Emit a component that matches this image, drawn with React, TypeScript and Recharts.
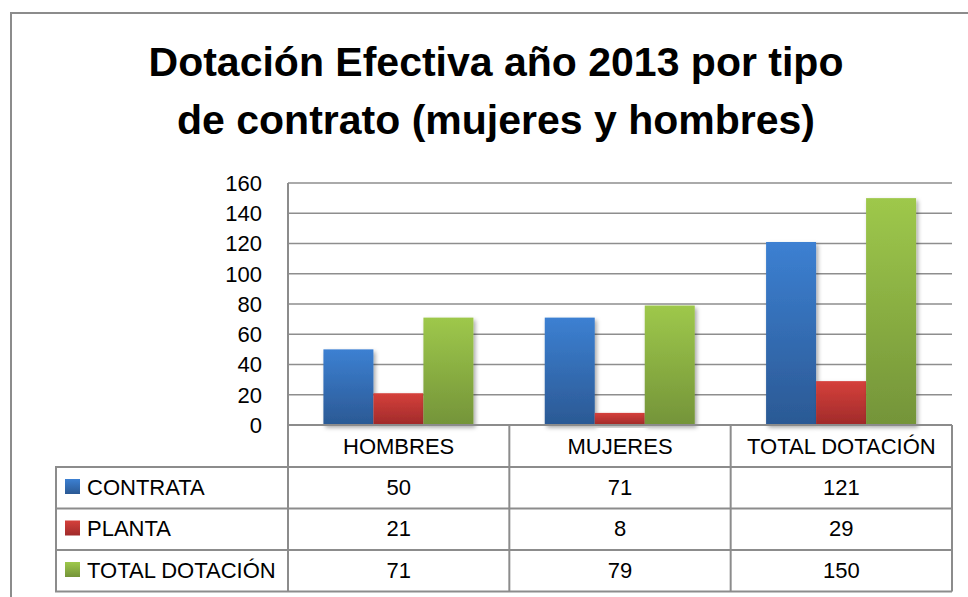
import React from 'react';
import { BarChart, Bar, XAxis, YAxis, CartesianGrid } from 'recharts';

const categories = ['HOMBRES', 'MUJERES', 'TOTAL DOTACIÓN'];
const contrata = [50, 71, 121];
const planta = [21, 8, 29];
const totalDotacion = [71, 79, 150];
const seriesNames = ['CONTRATA', 'PLANTA', 'TOTAL DOTACIÓN'];
const yTicks = [0, 20, 40, 60, 80, 100, 120, 140, 160];
const titleLines = ['Dotación Efectiva año 2013 por tipo', 'de contrato (mujeres y hombres)'];

const data = categories.map((name, i) => ({
  name,
  contrata: contrata[i],
  planta: planta[i],
  total: totalDotacion[i],
}));

const series = [
  { key: 'contrata', name: seriesNames[0], grad: 'gBlue', top: '#3c80d2', bottom: '#2b5994' },
  { key: 'planta', name: seriesNames[1], grad: 'gRed', top: '#d5403b', bottom: '#a02a2a' },
  { key: 'total', name: seriesNames[2], grad: 'gGreen', top: '#9ec84b', bottom: '#749439' },
];

const W = 968;
const H = 597;
const M_TOP = 183;
const M_RIGHT = 16;
const Y_W = 288;
const X_H = 172;
const PLOT_W = W - Y_W - M_RIGHT;
const TABLE_TOP = H - X_H;
const HEADER_H = 42;
const ROW_H = 41.5;
const TABLE_LEFT = 56;
const LINE = '#8c8c8c';
const FONT = '"Liberation Sans", Arial, sans-serif';

const valuesBySeries: Record<string, number[]> = {
  contrata,
  planta,
  total: totalDotacion,
};

function BarShape(props: any) {
  const { x, y, width, height, fill } = props;
  if (!height || height <= 0) return null;
  return <rect x={x} y={y} width={width} height={height} fill={fill} filter="url(#barShadow)" />;
}

function TableTick(props: any) {
  const { x, payload, index } = props;
  const bw = PLOT_W / categories.length;
  const left = x - bw / 2;
  const right = x + bw / 2;
  const bottom = TABLE_TOP + HEADER_H + ROW_H * series.length;
  const plotRight = Y_W + PLOT_W;
  return (
    <g fontFamily={FONT} fontSize={22} fill="#000">
      {index === 0 && (
        <g>
          <line x1={left} x2={left} y1={TABLE_TOP} y2={bottom} stroke={LINE} strokeWidth={2} />
          <line x1={TABLE_LEFT} x2={TABLE_LEFT} y1={TABLE_TOP + HEADER_H} y2={bottom} stroke={LINE} strokeWidth={2} />
          {series.map((s, r) => {
            const yy = TABLE_TOP + HEADER_H + ROW_H * r;
            return (
              <g key={s.key}>
                <line x1={TABLE_LEFT - 1} x2={plotRight} y1={yy} y2={yy} stroke={LINE} strokeWidth={2} />
                <rect x={65} y={yy + 12} width={15} height={15} fill={`url(#${s.grad})`} />
                <text x={87} y={yy + 27.5} textAnchor="start" fill="#000">
                  {s.name}
                </text>
              </g>
            );
          })}
          <line x1={TABLE_LEFT - 1} x2={plotRight} y1={bottom} y2={bottom} stroke={LINE} strokeWidth={2} />
        </g>
      )}
      <line x1={right} x2={right} y1={TABLE_TOP} y2={bottom} stroke={LINE} strokeWidth={2} />
      <text x={x} y={TABLE_TOP + 29} textAnchor="middle" fill="#000">
        {payload.value}
      </text>
      {series.map((s, r) => (
        <text key={s.key} x={x} y={TABLE_TOP + HEADER_H + ROW_H * r + 27.5} textAnchor="middle" fill="#000">
          {valuesBySeries[s.key][index]}
        </text>
      ))}
    </g>
  );
}

export default function App() {
  return (
    <div style={{ position: 'absolute', left: 0, top: 0, width: W, height: H, overflow: 'hidden', background: '#fff' }}>
      <div
        style={{
          position: 'absolute',
          left: 10,
          top: 12,
          width: 1100,
          height: 800,
          borderTop: `2px solid ${LINE}`,
          borderLeft: `2px solid ${LINE}`,
        }}
      />
      <div
        style={{
          position: 'absolute',
          left: 24,
          width: 944,
          top: 34,
          textAlign: 'center',
          fontFamily: FONT,
          fontWeight: 'bold',
          fontSize: 41,
          lineHeight: '57.5px',
          color: '#000',
          whiteSpace: 'nowrap',
        }}
      >
        {titleLines.map((t) => (
          <div key={t}>{t}</div>
        ))}
      </div>
      <div style={{ position: 'absolute', left: 0, top: 0 }}>
        <BarChart
          width={W}
          height={H}
          data={data}
          margin={{ top: M_TOP, right: M_RIGHT, bottom: 0, left: 0 }}
          barCategoryGap="16%"
          barGap={0}
        >
          <defs>
            {series.map((s) => (
              <linearGradient key={s.grad} id={s.grad} x1="0" y1="0" x2="0" y2="1">
                <stop offset="0%" stopColor={s.top} />
                <stop offset="100%" stopColor={s.bottom} />
              </linearGradient>
            ))}
            <filter id="barShadow" x="-20%" y="-10%" width="150%" height="130%">
              <feDropShadow dx="2" dy="2.5" stdDeviation="2" floodColor="#000" floodOpacity="0.35" />
            </filter>
          </defs>
          <CartesianGrid vertical={false} stroke="#8e8e8e" strokeWidth={1.5} />
          <YAxis
            type="number"
            domain={[0, 160]}
            ticks={yTicks}
            width={Y_W}
            axisLine={{ stroke: LINE, strokeWidth: 2 }}
            tickLine={false}
            tickSize={6}
            tickMargin={20}
            tick={{ fill: '#000', fontSize: 22, fontFamily: FONT }}
            interval={0}
          />
          <XAxis
            dataKey="name"
            height={X_H}
            axisLine={{ stroke: LINE, strokeWidth: 2 }}
            tickLine={false}
            tickSize={0}
            tickMargin={0}
            interval={0}
            tick={<TableTick />}
          />
          {series.map((s) => (
            <Bar
              key={s.key}
              dataKey={s.key}
              name={s.name}
              fill={`url(#${s.grad})`}
              shape={<BarShape />}
              isAnimationActive={false}
            />
          ))}
        </BarChart>
      </div>
    </div>
  );
}
